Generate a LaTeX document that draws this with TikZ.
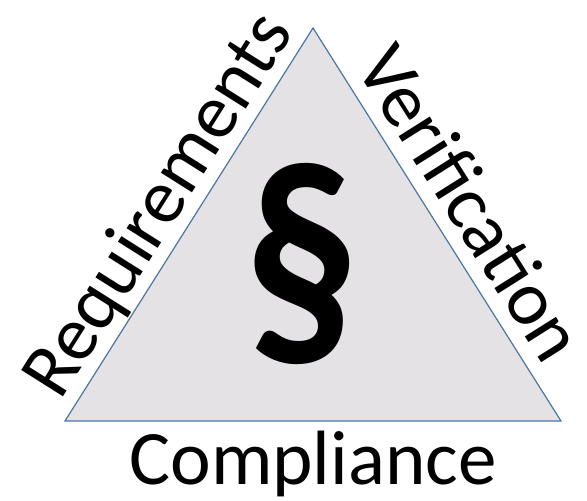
\documentclass[tikz,border=0pt]{standalone}
\usepackage{fontspec}
\setmainfont{Carlito}
\usepackage{tikz}
\usetikzlibrary{positioning}

\definecolor{edgeblue}{RGB}{74,118,164}
\definecolor{trifill}{RGB}{228,226,228}

\begin{document}
\begin{tikzpicture}[x=1pt, y=1pt,
	side/.style={font=\fontsize{77}{90}\selectfont, inner sep=0pt},
	para/.style={font=\bfseries\fontsize{270}{300}\selectfont, inner sep=0pt, xscale=0.85}]
	\useasboundingbox (0,0) rectangle (587,501);
	
	\coordinate (top) at (313,473);
	\coordinate (left) at (65,80);
	\coordinate (right) at (561,80);
	
	\draw[edgeblue, fill=trifill, line width=1.2pt] (left) -- (top) -- (right) -- cycle;
	
	% labels along the three sides
	\path (left) -- node[side, sloped, above=1pt] (req) {Requirements} (top);
	\path (top) -- node[side, sloped, above=14pt] (ver) {Verification} (right);
	\path (left) -- node[side, below=10pt] (comp) {Compliance} (right);
	
	\node[para] (sec) at (302,237) {§};
\end{tikzpicture}
\end{document}
